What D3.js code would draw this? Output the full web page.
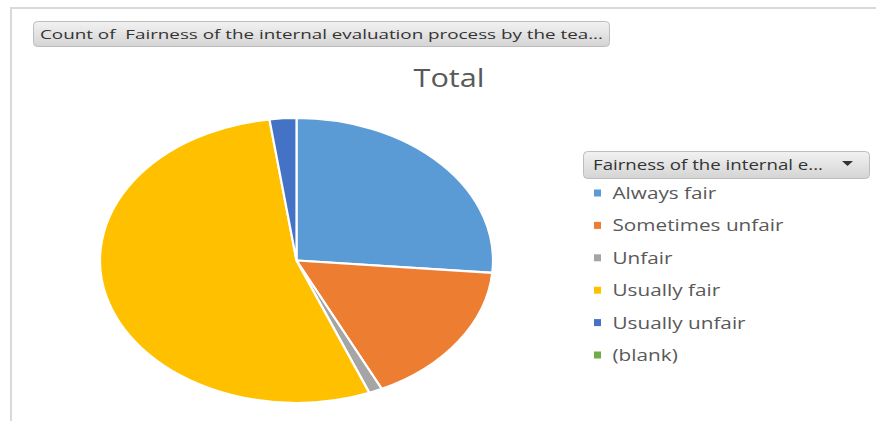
<!DOCTYPE html>
<html>
<head>
<meta charset="utf-8">
<script src="https://cdn.jsdelivr.net/npm/d3@7"></script>
<style>
  html, body { margin: 0; padding: 0; background: #fff; }
  svg { display: block; }
</style>
</head>
<body>
<svg id="chart" width="876" height="421"></svg>
<script>
const categories = ["Always fair", "Sometimes unfair", "Unfair", "Usually fair", "Usually unfair", "(blank)"];
const counts = [24, 15, 1, 49, 2, 0];
const colors = ["#5B9BD5", "#ED7D31", "#A5A5A5", "#FFC000", "#4472C4", "#70AD47"];
const chartTitle = "Total";
const fieldButton = "Count of  Fairness of the internal evaluation process by the tea...";
const legendButton = "Fairness of the internal e...";

const svg = d3.select("#chart");
const font = "'Open Sans', 'Noto Sans', sans-serif";

// frame
svg.append("path")
  .attr("d", "M11,421 L11,8 L876,8")
  .attr("fill", "none").attr("stroke", "#d9d9d9").attr("stroke-width", 2);

// gradient for buttons
const defs = svg.append("defs");
const g = defs.append("linearGradient").attr("id", "btn").attr("x1", 0).attr("y1", 0).attr("x2", 0).attr("y2", 1);
g.append("stop").attr("offset", "0%").attr("stop-color", "#f2f2f2");
g.append("stop").attr("offset", "100%").attr("stop-color", "#d4d4d4");

// field button
svg.append("rect").attr("x", 33.5).attr("y", 21.5).attr("width", 576).attr("height", 25).attr("rx", 4)
  .attr("fill", "url(#btn)").attr("stroke", "#bdbdbd");
svg.append("text").attr("x", 40).attr("y", 39).attr("font-family", font).attr("font-size", 13.5)
  .style("white-space", "pre")
  .attr("fill", "#333").attr("textLength", 563).attr("lengthAdjust", "spacingAndGlyphs").text(fieldButton);

// title
svg.append("text").attr("x", 449).attr("y", 87).attr("text-anchor", "middle")
  .attr("font-family", font).attr("font-size", 26).attr("fill", "#595959")
  .attr("textLength", 71).attr("lengthAdjust", "spacingAndGlyphs").text(chartTitle);

// pie (ellipse)
const cx = 296.5, cy = 260.5, rx = 196.5, ry = 142.5;
const data = categories.map((c, i) => ({ c, v: counts[i], color: colors[i] }));
const pie = d3.pie().value(d => d.v).sort(null);
const arc = d3.arc().innerRadius(0).outerRadius(ry);
const pg = svg.append("g").attr("transform", `translate(${cx},${cy}) scale(${rx / ry},1)`);
pg.selectAll("path").data(pie(data).filter(d => d.data.v > 0)).join("path")
  .attr("d", arc)
  .attr("fill", d => d.data.color)
  .attr("stroke", "#fff").attr("stroke-width", 2.2)
  .attr("vector-effect", "non-scaling-stroke");

// legend button
svg.append("rect").attr("x", 583.5).attr("y", 151.5).attr("width", 286).attr("height", 27).attr("rx", 4)
  .attr("fill", "url(#btn)").attr("stroke", "#bdbdbd");
svg.append("text").attr("x", 593).attr("y", 170).attr("font-family", font).attr("font-size", 14.5)
  .attr("fill", "#333").attr("textLength", 230).attr("lengthAdjust", "spacingAndGlyphs").text(legendButton);
svg.append("path").attr("d", "M842,161 L853,161 L847.5,166 Z").attr("fill", "#333");

// legend items
const ly = d3.scalePoint().domain(categories).range([193, 355]);
const lg = svg.append("g").selectAll("g").data(data).join("g")
  .attr("transform", d => `translate(0,${ly(d.c)})`);
lg.append("rect").attr("x", 594).attr("y", -3.5).attr("width", 7).attr("height", 7).attr("fill", d => d.color);
lg.append("text").attr("transform", "translate(612.5,6) scale(1.22,1)")
  .attr("font-family", font).attr("font-size", 17)
  .attr("fill", "#595959").text(d => d.c);
</script>
</body>
</html>
